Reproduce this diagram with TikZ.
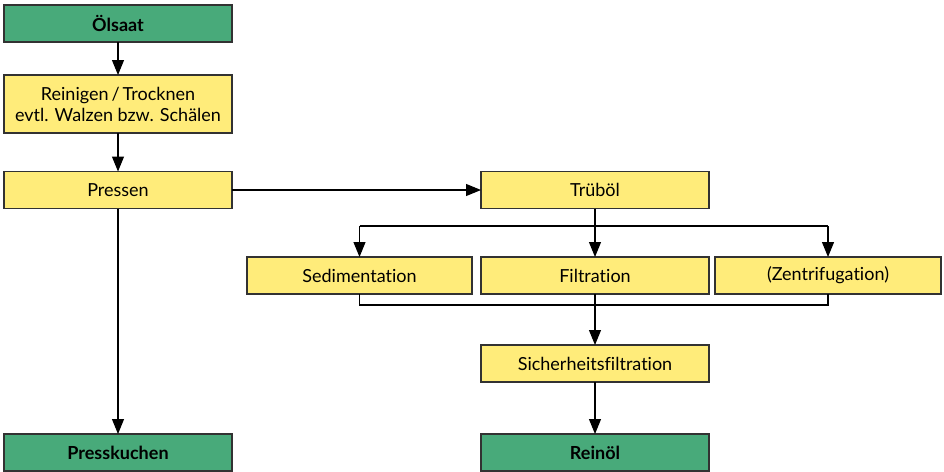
\documentclass[tikz,border=0pt]{standalone}
\usepackage{fontspec}
\setmainfont{Lato}[Ligatures=NoCommon]
\usetikzlibrary{arrows.meta,positioning}
\definecolor{saatgruen}{RGB}{72,170,122}
\definecolor{stufegelb}{RGB}{255,236,122}
\definecolor{rahmen}{RGB}{50,50,50}

\tikzset{
	stufe/.style={draw=rahmen,fill=stufegelb,line width=1.1pt,minimum width=228pt,minimum height=37pt,inner sep=0pt,outer sep=0pt,font=\fontsize{18}{21}\selectfont,align=center},
	produkt/.style={stufe,fill=saatgruen,font=\fontsize{18}{21}\selectfont\bfseries},
	linie/.style={draw=black,line width=1.1pt},
	pfeil/.style={linie,-{Triangle[length=15pt,width=12pt]}}
}

\begin{document}
\begin{tikzpicture}[x=1pt,y=-1pt]
	\useasboundingbox (0,0) rectangle (944,471);
	
	\node[produkt] (oelsaat) at (118,23.5) {Ölsaat};
	\node[stufe,minimum height=58pt] (reinigen) at (118,104) {Reinigen\,/\,Trocknen\\evtl. Walzen bzw. Schälen};
	\node[stufe] (pressen) at (118,190) {Pressen};
	\node[produkt] (kuchen) at (118,452.5) {Presskuchen};
	
	\node[stufe] (trueboel) at (595,190) {Trüböl};
	\node[stufe,minimum width=225pt] (sedi) at (359.5,275.5) {Sedimentation};
	\node[stufe] (filtra) at (595,275.5) {Filtration};
	\node[stufe,minimum width=226pt] (zentri) at (828,275.5) {(Zentrifugation)};
	\node[stufe] (sicher) at (595,363.5) {Sicherheitsfiltration};
	\node[produkt] (reinoel) at (595,452.5) {Reinöl};
	
	\coordinate (verteil) at (595,226);
	\coordinate (sammel) at (595,305);
	
	\draw[pfeil] (oelsaat) -- (reinigen);
	\draw[pfeil] (reinigen) -- (pressen);
	\draw[pfeil] (pressen) -- (kuchen);
	\draw[pfeil] (pressen.east |- trueboel.west) -- (trueboel.west);
	\draw[pfeil] (trueboel) -- (filtra);
	\draw[pfeil] (sedi.north |- verteil) -- (sedi.north);
	\draw[pfeil] (zentri.north |- verteil) -- (zentri.north);
	\draw[pfeil] (filtra) -- (sicher);
	\draw[pfeil] (sicher) -- (reinoel);
	
	\draw[linie] (sedi.north |- verteil) -- (zentri.north |- verteil);
	\draw[linie] (sedi.south) -- (sedi.south |- sammel) -- (zentri.south |- sammel) -- (zentri.south);
\end{tikzpicture}
\end{document}
